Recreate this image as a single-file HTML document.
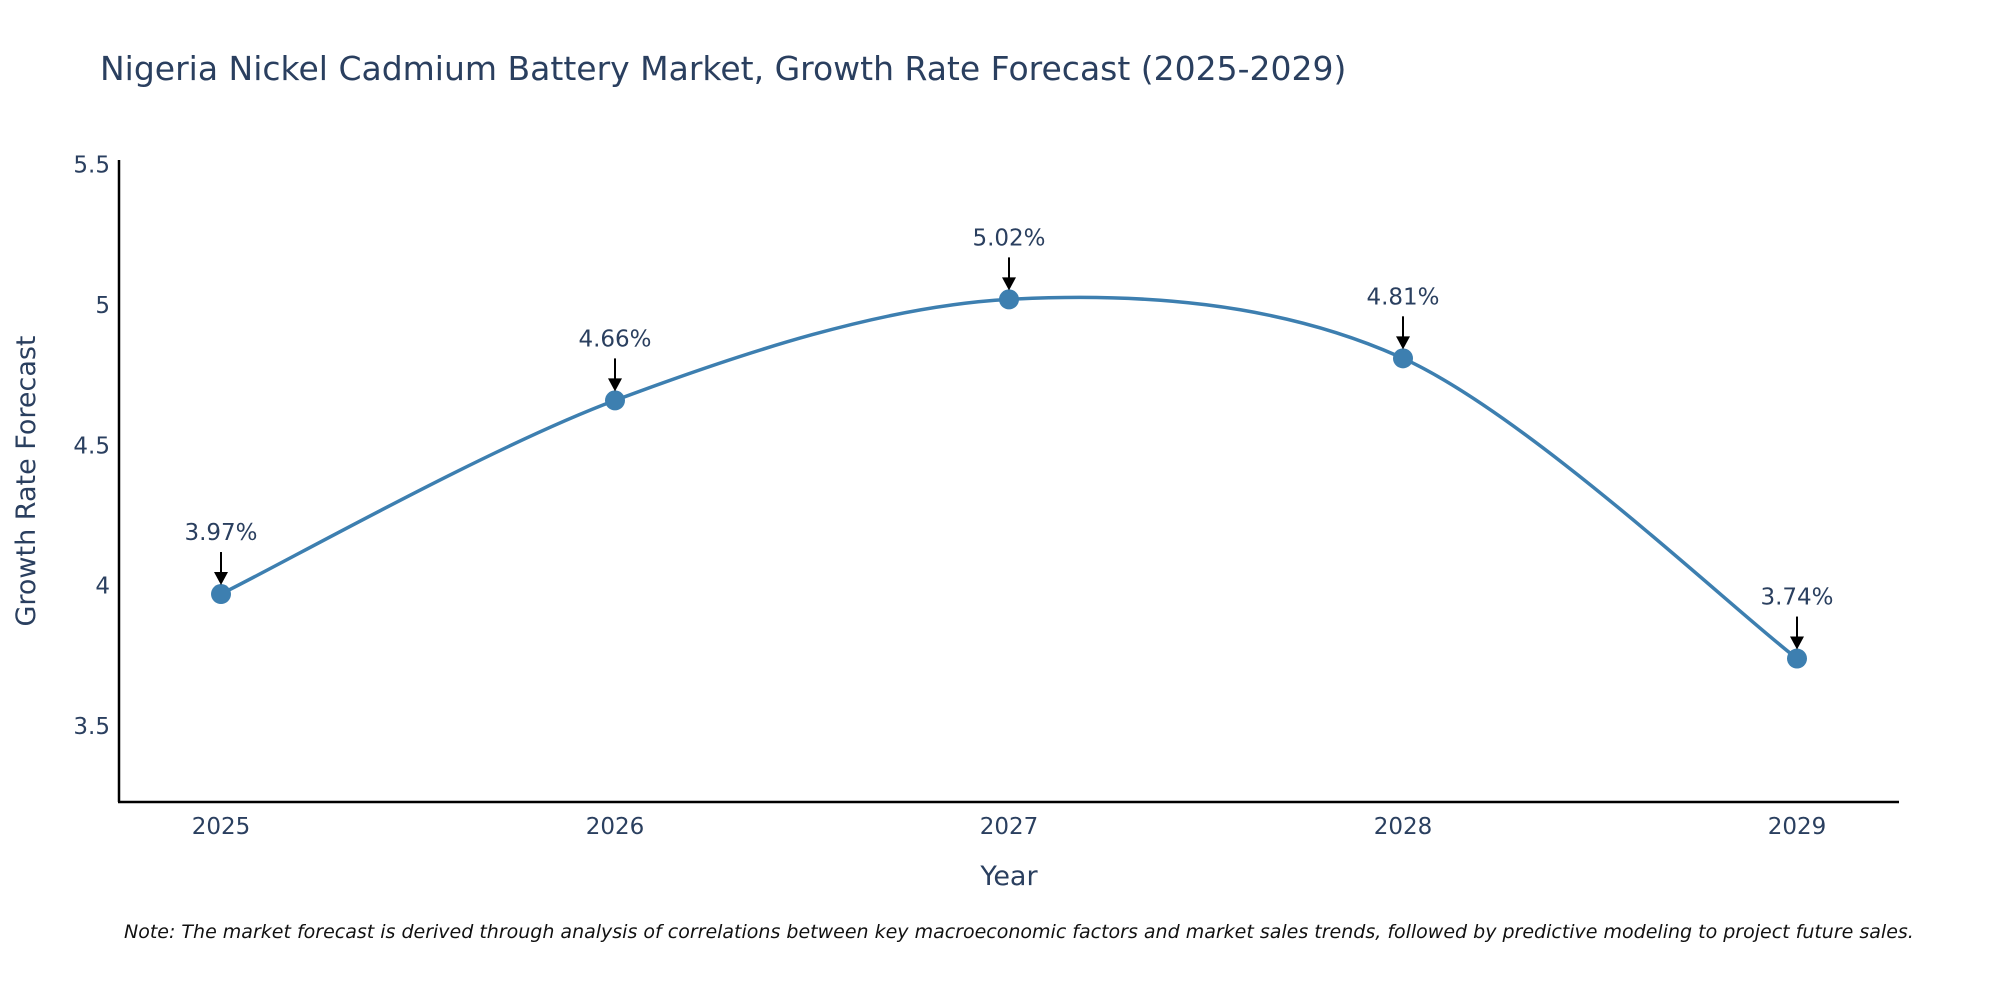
<!DOCTYPE html>
<html><head><meta charset="utf-8"><style>
body{margin:0;background:#fff;}
svg{display:block;font-family:"DejaVu Sans","Liberation Sans",sans-serif;}
</style></head><body>
<svg id="c" width="2000" height="1000">
<text x="100" y="80" font-size="33" fill="#2a3f5f">Nigeria Nickel Cadmium Battery Market, Growth Rate Forecast (2025-2029)</text>
<text transform="translate(35,481) rotate(-90)" text-anchor="middle" font-size="27" fill="#2a3f5f">Growth Rate Forecast</text>
<text x="1009" y="885" text-anchor="middle" font-size="27" fill="#2a3f5f">Year</text>
<text x="124" y="938" font-size="19" font-style="italic" fill="#111">Note: The market forecast is derived through analysis of correlations between key macroeconomic factors and market sales trends, followed by predictive modeling to project future sales.</text>
<line x1="119" y1="160" x2="119" y2="802" stroke="#000" stroke-width="2.5"/>
<line x1="118" y1="802" x2="1899" y2="802" stroke="#000" stroke-width="2.5"/>
<g id="g"></g>
</svg>
<script>
const years=["2025","2026","2027","2028","2029"];
const values=[3.97,4.66,5.02,4.81,3.74];
const labels=["3.97%","4.66%","5.02%","4.81%","3.74%"];
const yTicks=[3.5,4,4.5,5,5.5];
const yTickLabels=["3.5","4","4.5","5","5.5"];
const NS="http://www.w3.org/2000/svg";
const g=document.getElementById('g');
function X(i){return 221+i*394;}
function Y(v){return 305+(5-v)*280.6;}
function mk(t,a){const e=document.createElementNS(NS,t);for(const k in a)e.setAttribute(k,a[k]);g.appendChild(e);return e;}
yTicks.forEach((v,i)=>{const t=mk('text',{x:110,y:Y(v)+8,'text-anchor':'end','font-size':23,fill:'#2a3f5f'});t.textContent=yTickLabels[i];

});
years.forEach((y,i)=>{const t=mk('text',{x:X(i),y:834,'text-anchor':'middle','font-size':23,fill:'#2a3f5f'});t.textContent=y;

});
const P=values.map((v,i)=>[X(i),Y(v)]);
let d=`M${P[0][0]},${P[0][1]}`;const s=0.16;
for(let i=0;i<P.length-1;i++){const p0=P[i-1]||P[i],p1=P[i],p2=P[i+1],p3=P[i+2]||P[i+1];
d+=` C${p1[0]+(p2[0]-p0[0])*s},${p1[1]+(p2[1]-p0[1])*s} ${p2[0]-(p3[0]-p1[0])*s},${p2[1]-(p3[1]-p1[1])*s} ${p2[0]},${p2[1]}`;}
const ln=mk('path',{d:d,fill:'none',stroke:'#3d7fb0','stroke-width':3.5});


P.forEach((p,i)=>{const c=mk('circle',{cx:p[0],cy:p[1],r:10,fill:'#3d7fb0'});


const a=mk('line',{x1:p[0],y1:p[1]-42,x2:p[0],y2:p[1]-20,stroke:'#000','stroke-width':2});


const h=mk('polygon',{points:`${p[0]-7},${p[1]-22} ${p[0]+7},${p[1]-22} ${p[0]},${p[1]-9}`,fill:'#000'});


const t=mk('text',{x:p[0],y:p[1]-54,'text-anchor':'middle','font-size':23,fill:'#2a3f5f'});t.textContent=labels[i];

});
</script>
</body></html>
